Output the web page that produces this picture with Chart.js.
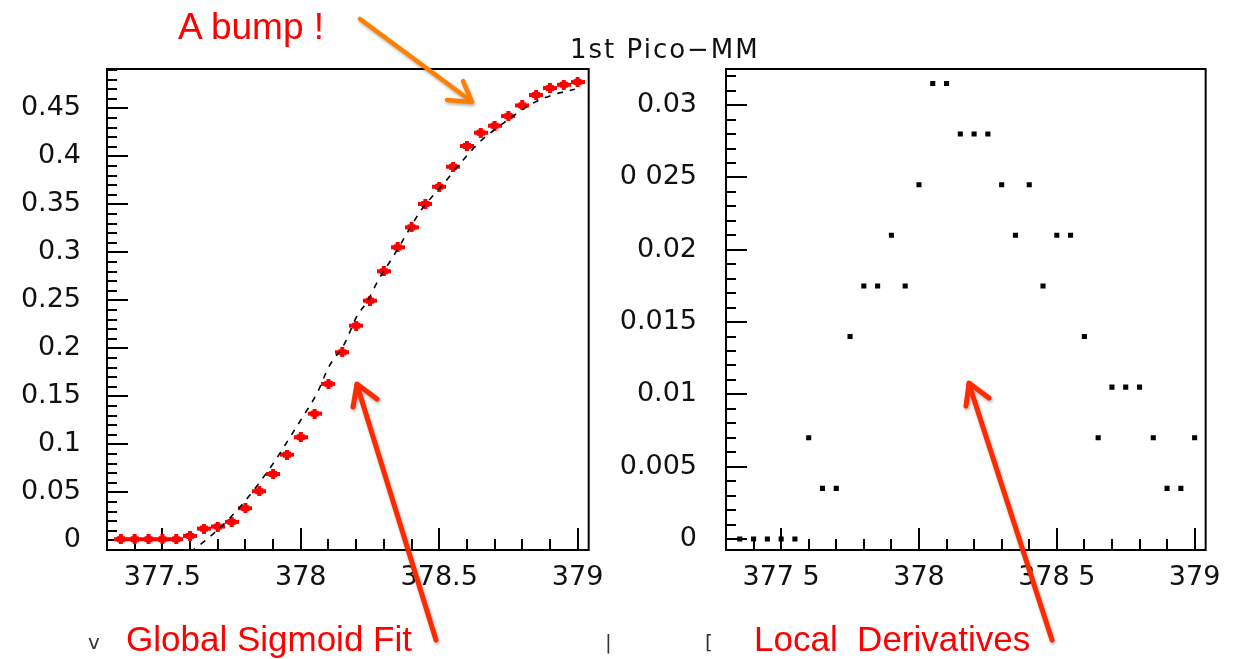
<!DOCTYPE html>
<html>
<head>
<meta charset="utf-8">
<script src="https://cdn.jsdelivr.net/npm/chart.js@4.4.1/dist/chart.umd.min.js"></script>
<style>
  body { margin: 0; background: #fff; }
  #page { position: relative; width: 1233px; height: 659px; overflow: hidden; background: #fff; }
  .box { position: absolute; top: 0; height: 659px; }
  .txt { position: absolute; white-space: pre; line-height: 1; }
  .red { color: #ff0000; font-family: "Liberation Sans", Arial, sans-serif; }
</style>
</head>
<body>
<div id="page">
  <div class="box" style="left:0;width:616px"><canvas id="fitChart"></canvas></div>
  <div class="box" style="left:616px;width:617px"><canvas id="derivChart"></canvas></div>

  <div class="txt" style="left:570px;top:34px;font:26px 'DejaVu Sans';letter-spacing:2px;color:#111">1st Pico−MM</div>
  <div class="txt red" style="left:178px;top:8px;font-size:37px">A bump !</div>
  <div class="txt red" style="left:126px;top:621px;font-size:35px">Global Sigmoid Fit</div>
  <div class="txt red" style="left:754px;top:621px;font-size:35px">Local  Derivatives</div>
  <div class="txt" style="left:88px;top:630px;font:20px 'DejaVu Sans';color:#333">v</div>
  <div class="txt" style="left:605px;top:630px;font:20px 'DejaVu Sans';color:#333">|</div>
  <div class="txt" style="left:705px;top:630px;font:20px 'DejaVu Sans';color:#333">[</div>

  <svg width="1233" height="659" style="position:absolute;left:0;top:0;pointer-events:none;filter:drop-shadow(1px 2px 1.5px rgba(0,0,0,0.3))">
    <g fill="none" stroke-linecap="round" stroke-linejoin="round">
      <line x1="360" y1="19" x2="471" y2="101" stroke="#ff8000" stroke-width="4.5"/>
      <polyline points="463,81 472,102 447,100" stroke="#ff8000" stroke-width="4.5"/>
      <line x1="436" y1="640" x2="357" y2="385" stroke="#ff2a00" stroke-width="5"/>
      <polyline points="353,407 357,384 377,399" stroke="#ff2a00" stroke-width="5"/>
      <line x1="1052" y1="640" x2="969" y2="384" stroke="#ff2a00" stroke-width="5"/>
      <polyline points="966,406 969,383 989,398" stroke="#ff2a00" stroke-width="5"/>
    </g>
  </svg>
</div>

<script>
// x positions of the scan points (same for both plots)
const scanX = [377.35, 377.40, 377.45, 377.50, 377.55, 377.60, 377.65, 377.70, 377.75, 377.80,
               377.85, 377.90, 377.95, 378.00, 378.05, 378.10, 378.15, 378.20, 378.25, 378.30,
               378.35, 378.40, 378.45, 378.50, 378.55, 378.60, 378.65, 378.70, 378.75, 378.80,
               378.85, 378.90, 378.95, 379.00];

// left plot: measured values
const sigmoidY = [0.0012, 0.0012, 0.0012, 0.0012, 0.0012, 0.0047, 0.0123, 0.0144, 0.0193, 0.0335,
                  0.0512, 0.0692, 0.0893, 0.1075, 0.132, 0.163, 0.196, 0.2237, 0.2497, 0.2803,
                  0.3053, 0.3261, 0.3504, 0.3684, 0.3892, 0.4108, 0.4246, 0.4319, 0.442, 0.4531,
                  0.4639, 0.4712, 0.4746, 0.4774];

// left plot: fitted curve (dashed)
const fitX = [377.60, 377.62, 377.70, 377.79, 377.90, 377.96, 378.01, 378.06, 378.10, 378.16,
              378.20, 378.24, 378.28, 378.33, 378.38, 378.43, 378.52, 378.58, 378.65, 378.72,
              378.83, 378.90, 378.99];
const fitY = [-0.012, -0.008, 0.011, 0.038, 0.080, 0.107, 0.130, 0.154, 0.180, 0.206,
              0.232, 0.249, 0.271, 0.294, 0.318, 0.342, 0.373, 0.394, 0.416, 0.432,
              0.454, 0.463, 0.470];

// right plot: local derivatives
const derivY = [0, 0, 0, 0, 0, 0.007, 0.0035, 0.0035, 0.014, 0.0175,
                0.0175, 0.021, 0.0175, 0.0245, 0.0315, 0.0315, 0.028, 0.028, 0.028, 0.0245,
                0.021, 0.0245, 0.0175, 0.021, 0.021, 0.014, 0.007, 0.0105, 0.0105, 0.0105,
                0.007, 0.0035, 0.0035, 0.007];

// tick labels
const xTicks = [377.5, 378, 378.5, 379];
const leftXLabels = ['377.5', '378', '378.5', '379'];
const rightXLabels = ['377 5', '378', '378 5', '379'];
const leftYTicks = [0, 0.05, 0.1, 0.15, 0.2, 0.25, 0.3, 0.35, 0.4, 0.45];
const leftYLabels = ['0', '0.05', '0.1', '0.15', '0.2', '0.25', '0.3', '0.35', '0.4', '0.45'];
const rightYTicks = [0, 0.005, 0.01, 0.015, 0.02, 0.025, 0.03];
const rightYLabels = ['0', '0.005', '0.01', '0.015', '0.02', '0 025', '0.03'];

const tickFont = { family: 'DejaVu Sans', size: 27 };

// red marker with small error bar
function makeMarker() {
    const c = document.createElement('canvas');
    c.width = 14;
    c.height = 10;
    const g = c.getContext('2d');
    g.fillStyle = '#ff0000';
    g.fillRect(0, 3, 14, 4);
    g.fillRect(5, 0, 4, 10);
    g.fillRect(3, 2, 8, 6);
    return c;
}

// list of tick indices between min and max for a given step
function stepValues(min, max, step) {
    const out = [];
    const k0 = Math.ceil(min / step - 1e-6);
    const k1 = Math.floor(max / step + 1e-6);
    for (let k = k0; k <= k1; k++) out.push(k);
    return out;
}

// frame and inner tick marks, HIGZ style
const framePlugin = {
    id: 'frameTicks',
    beforeDatasetsDraw(chart, args, opts) {
        const { ctx, chartArea: a, scales } = chart;
        ctx.save();
        ctx.strokeStyle = '#000';
        ctx.lineWidth = 2;
        ctx.beginPath();
        stepValues(scales.x.min, scales.x.max, opts.xMinor).forEach(k => {
            const v = k * opts.xMinor;
            const major = k % Math.round(opts.xMajor / opts.xMinor) === 0;
            const px = Math.round(scales.x.getPixelForValue(v));
            ctx.moveTo(px, a.bottom);
            ctx.lineTo(px, a.bottom - (major ? 22 : 11));
        });
        stepValues(scales.y.min, scales.y.max, opts.yMinor).forEach(k => {
            const v = k * opts.yMinor;
            const major = k % Math.round(opts.yMajor / opts.yMinor) === 0;
            const py = Math.round(scales.y.getPixelForValue(v));
            ctx.moveTo(a.left, py);
            ctx.lineTo(a.left + (major ? 21 : 10), py);
        });
        ctx.stroke();
        ctx.restore();
    },
    afterDatasetsDraw(chart) {
        const { ctx, chartArea: a } = chart;
        ctx.save();
        ctx.strokeStyle = '#000';
        ctx.lineWidth = 2;
        ctx.strokeRect(a.left, a.top, a.right - a.left, a.bottom - a.top);
        ctx.restore();
    }
};

function axes(yMin, yMax, yTicks, yLabels, xLabels, yWidth, yPad) {
    return {
        x: {
            type: 'linear',
            min: 377.3,
            max: 379.04,
            grid: { display: false, drawTicks: false },
            border: { display: false },
            afterBuildTicks: s => { s.ticks = xTicks.map(v => ({ value: v })); },
            afterFit: s => { s.height = 109; },
            ticks: {
                font: tickFont,
                color: '#111',
                padding: 12,
                maxRotation: 0,
                autoSkip: false,
                callback: (v, i) => xLabels[i]
            }
        },
        y: {
            type: 'linear',
            min: yMin,
            max: yMax,
            grid: { display: false, drawTicks: false },
            border: { display: false },
            afterBuildTicks: s => { s.ticks = yTicks.map(v => ({ value: v })); },
            afterFit: s => { s.width = yWidth; },
            ticks: {
                font: tickFont,
                color: '#111',
                padding: yPad,
                autoSkip: false,
                callback: (v, i) => yLabels[i]
            }
        }
    };
}

const common = {
    responsive: true,
    maintainAspectRatio: false,
    animation: false,
    events: []
};

// left: sigmoid fit
new Chart(document.getElementById('fitChart'), {
    type: 'scatter',
    data: {
        datasets: [{
            label: 'fit',
            data: fitX.map((x, i) => ({ x: x, y: fitY[i] })),
            showLine: true,
            borderColor: '#000',
            borderWidth: 1.6,
            borderDash: [6, 7],
            pointRadius: 0,
            cubicInterpolationMode: 'monotone'
        }, {
            label: 'data',
            data: scanX.map((x, i) => ({ x: x, y: sigmoidY[i] })),
            pointStyle: makeMarker(),
            pointRadius: 6
        }]
    },
    options: Object.assign({}, common, {
        layout: { padding: { left: 0, top: 69, right: 27, bottom: 0 } },
        plugins: {
            legend: { display: false },
            tooltip: { enabled: false },
            frameTicks: { xMinor: 0.1, xMajor: 0.5, yMinor: 0.01, yMajor: 0.05 }
        },
        scales: axes(-0.01, 0.491, leftYTicks, leftYLabels, leftXLabels, 107, 26)
    }),
    plugins: [framePlugin]
});

// right: local derivatives
new Chart(document.getElementById('derivChart'), {
    type: 'scatter',
    data: {
        datasets: [{
            label: 'derivative',
            data: scanX.map((x, i) => ({ x: x, y: derivY[i] })),
            pointStyle: 'rect',
            pointRadius: 3.6,
            backgroundColor: '#000',
            borderWidth: 0
        }]
    },
    options: Object.assign({}, common, {
        layout: { padding: { left: 0, top: 69, right: 26, bottom: 0 } },
        plugins: {
            legend: { display: false },
            tooltip: { enabled: false },
            frameTicks: { xMinor: 0.1, xMajor: 0.5, yMinor: 0.001, yMajor: 0.005 }
        },
        scales: axes(-0.00076, 0.0325, rightYTicks, rightYLabels, rightXLabels, 110, 29)
    }),
    plugins: [framePlugin]
});
</script>
</body>
</html>
